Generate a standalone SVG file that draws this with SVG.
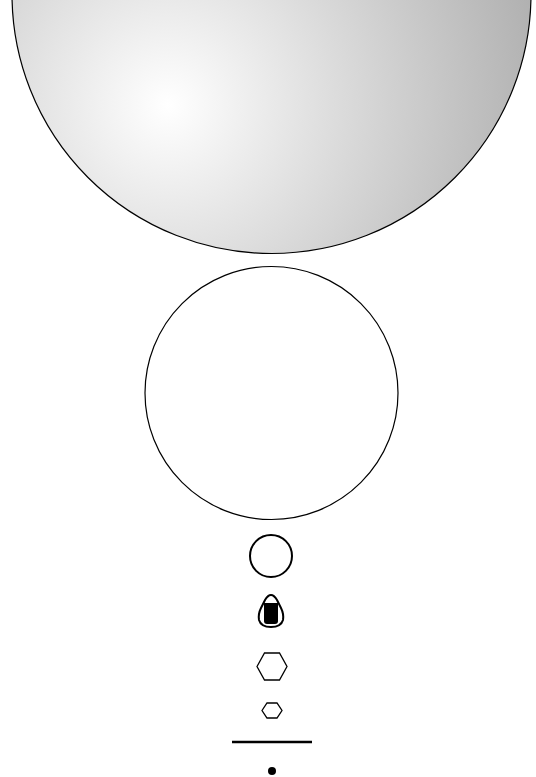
<svg xmlns="http://www.w3.org/2000/svg" width="536" height="777" viewBox="0 0 536 777">
<defs>
<radialGradient id="sphere" gradientUnits="userSpaceOnUse" cx="168" cy="105" r="400">
<stop offset="0" stop-color="#ffffff"/>
<stop offset="1" stop-color="#acacac"/>
</radialGradient>
</defs>
<style>
.o{fill:none;stroke:#000;}
</style>
<rect width="536" height="777" fill="#fff"/>
<g id="sphere-node">
<circle cx="271.5" cy="-6" r="259.5" fill="url(#sphere)" stroke="#000" stroke-width="1.2"/>
</g>
<g id="circle-node">
<circle cx="271.5" cy="393" r="126.5" fill="#fff" stroke="#000" stroke-width="1.2"/>
</g>
<g id="small-circle">
<circle class="o" cx="271" cy="556" r="21" stroke-width="2"/>
</g>
<g id="bullet">
<path d="M271,595 Q268,595 265,600 L261,608 Q258,614 259,620 Q261,627 271,627 Q281,627 283,620 Q284,614 281,608 L277,600 Q274,595 271,595 Z" fill="#fff" stroke="#000" stroke-width="2"/>
<path d="M264,603 L278,603 L278,621 Q278,624 275,624 L267,624 Q264,624 264,621 Z" fill="#000"/>
</g>
<g id="hexagon">
<polygon class="o" points="257,666.5 264.5,653 279.5,653 287,666.5 279.5,680 264.5,680" stroke-width="1.3"/>
</g>
<g id="small-hexagon">
<polygon class="o" points="262,710.5 267,703 277,703 282,710.5 277,718 267,718" stroke-width="1.3"/>
</g>
<g id="line-node">
<line x1="232" y1="742" x2="312" y2="742" stroke="#000" stroke-width="2.5"/>
</g>
<g id="dot">
<circle cx="272" cy="771" r="4" fill="#000"/>
</g>
<g id="connectors"></g>
</svg>
